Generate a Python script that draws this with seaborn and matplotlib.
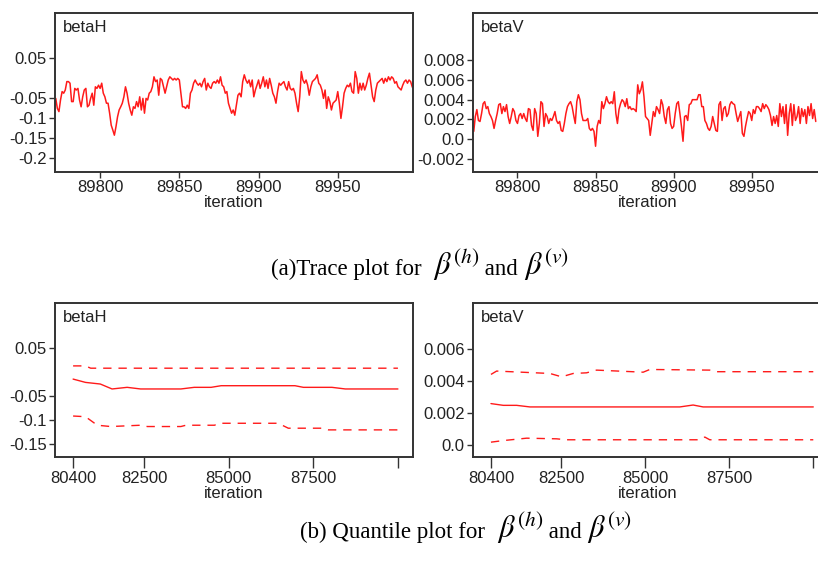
import numpy as np
import pandas as pd
import matplotlib
matplotlib.use('Agg')
import matplotlib.pyplot as plt
from matplotlib.offsetbox import TextArea, HPacker, AnnotationBbox
import seaborn as sns

# trace values (one per iteration)
beta_h_trace = [
    -0.051, -0.076, -0.084, -0.055, -0.034, -0.038, -0.030, -0.009, -0.009, -0.013,
    -0.059, -0.059, -0.026, -0.030, -0.026, -0.055, -0.072, -0.047, -0.030, -0.026,
    -0.072, -0.068, -0.051, -0.038, -0.068, -0.022, -0.026, -0.018, -0.026, -0.013,
    -0.038, -0.047, -0.063, -0.063, -0.088, -0.118, -0.130, -0.143, -0.122, -0.097,
    -0.080, -0.072, -0.063, -0.047, -0.022, -0.038, -0.063, -0.080, -0.093, -0.072,
    -0.076, -0.059, -0.072, -0.047, -0.080, -0.051, -0.088, -0.051, -0.055, -0.038,
    -0.034, -0.022, 0.003, -0.009, -0.005, -0.043, -0.001, -0.005, -0.022, -0.038,
    -0.022, -0.005, 0.003,
    -0.001, -0.005, -0.001, -0.005, -0.001, -0.005, -0.038, -0.072, -0.072, -0.076,
    -0.068, -0.076, -0.038, -0.030, -0.013, -0.005, -0.013, -0.018, -0.013, -0.022,
    -0.009, -0.001, -0.030, -0.013, -0.022, -0.026, -0.013, -0.009, -0.013, -0.005,
    -0.013, 0.003, -0.018, -0.022, -0.038, -0.034, -0.063, -0.076, -0.088, -0.080,
    -0.093, -0.068, -0.043, -0.038, -0.047, -0.009, 0.008, -0.005, -0.013, -0.005,
    -0.022, -0.005, -0.047, -0.030, -0.018, -0.005, -0.026, -0.013, 0.003, -0.022,
    -0.005, -0.026, -0.001, -0.018, -0.038, -0.047, -0.063, -0.034, -0.013, -0.018,
    -0.013, -0.009, -0.022, -0.030,
    -0.009, -0.026, -0.030, -0.026, -0.038, -0.063, -0.084, -0.047, 0.016, -0.005,
    -0.013, -0.005, -0.018, -0.043, -0.022, -0.009, -0.005, -0.001, 0.008, -0.013,
    -0.018, -0.030, -0.051, -0.030, -0.076, -0.047, -0.059, -0.080, -0.063, -0.059,
    -0.055, -0.034, -0.063, -0.101, -0.072, -0.038, -0.026, -0.018, -0.022, -0.013,
    -0.034, -0.038, 0.016, -0.001, -0.038, -0.013, -0.030, -0.013, -0.030, -0.018,
    -0.001, 0.012, -0.018, -0.047, -0.059, -0.030, -0.013, -0.009, -0.005, -0.001,
    -0.013, -0.001, -0.009, 0.003, -0.005, 0.003, -0.001, -0.013, -0.009, -0.022,
    -0.026, -0.030, -0.018, -0.009, -0.005, -0.013, -0.005, -0.009, -0.022, -0.030,
]

beta_v_trace = [
    0.0008, 0.0023, 0.0030, 0.0019, 0.0018, 0.0026, 0.0036, 0.0038, 0.0031, 0.0033,
    0.0026, 0.0023, 0.0019, 0.0011, 0.0019, 0.0026, 0.0035, 0.0036, 0.0026, 0.0033,
    0.0028, 0.0035, 0.0023, 0.0016, 0.0023, 0.0031, 0.0028, 0.0019, 0.0016, 0.0024,
    0.0026, 0.0021, 0.0026, 0.0021, 0.0018, 0.0031, 0.0030, 0.0014, 0.0009, 0.0031,
    0.0026, 0.0003, 0.0016, 0.0038, 0.0036, 0.0013, 0.0026, 0.0023, 0.0016, 0.0021,
    0.0019, 0.0023, 0.0028, 0.0019, 0.0016, 0.0018, 0.0009, 0.0008, 0.0016, 0.0026,
    0.0033, 0.0036, 0.0038, 0.0033, 0.0024, 0.0016, 0.0038, 0.0045, 0.0040, 0.0026,
    0.0019, 0.0019,
    0.0019, 0.0021, 0.0011, 0.0009, 0.0011, 0.0008, -0.0007, 0.0013, 0.0019, 0.0016,
    0.0038, 0.0031, 0.0036, 0.0043, 0.0038, 0.0036, 0.0038, 0.0036, 0.0048, 0.0026,
    0.0016, 0.0030, 0.0036, 0.0040, 0.0038, 0.0033, 0.0041, 0.0031, 0.0033, 0.0030,
    0.0031, 0.0030, 0.0028, 0.0055, 0.0046, 0.0050, 0.0058, 0.0043, 0.0023, 0.0021,
    0.0019, 0.0004, 0.0016, 0.0028, 0.0023, 0.0033, 0.0030, 0.0026, 0.0040, 0.0035,
    0.0023, 0.0016, 0.0030, 0.0033, 0.0016, 0.0011, 0.0013, 0.0026, 0.0036, 0.0038,
    0.0026, 0.0013, -0.0002, 0.0023, 0.0024, 0.0019, 0.0035, 0.0036, 0.0040, 0.0040,
    0.0040, 0.0040, 0.0045, 0.0045, 0.0033, 0.0033, 0.0019, 0.0016, 0.0011, 0.0009,
    0.0013, 0.0023, 0.0016, 0.0009, 0.0008, 0.0035, 0.0038, 0.0019, 0.0031, 0.0033,
    0.0023, 0.0026, 0.0035, 0.0038, 0.0036, 0.0035, 0.0026, 0.0018, 0.0023, 0.0028,
    0.0006, 0.0003, 0.0013, 0.0021, 0.0028, 0.0026, 0.0019, 0.0030, 0.0026, 0.0033,
    0.0033, 0.0031, 0.0028, 0.0036, 0.0031, 0.0035, 0.0033, 0.0030, 0.0024, 0.0014,
    0.0023, 0.0016, 0.0024, 0.0013, 0.0036, 0.0023, 0.0033, 0.0016, 0.0035, 0.0004,
    0.0026, 0.0036, 0.0014, 0.0035, 0.0019, 0.0023, 0.0033, 0.0016, 0.0031, 0.0023,
    0.0030, 0.0016, 0.0033, 0.0024, 0.0036, 0.0021, 0.0030, 0.0018,
]
trace_start = 89772

# quantile plots: 2.5%, median, 97.5%
qh_med_x = [80400, 80766, 81204, 81551, 81997, 82394, 83585, 83980, 84478, 84775, 86957, 87206, 88050, 88447, 90000]
qh_med = [-0.0146, -0.0215, -0.0249, -0.0352, -0.0318, -0.0352, -0.0352, -0.0318, -0.0318, -0.0284, -0.0284, -0.0318, -0.0318, -0.0352, -0.0352]
qh_up_x = [80400, 80766, 80920, 90000]
qh_up = [0.0129, 0.0129, 0.0081, 0.0081]
qh_lo_x = [80400, 80766, 81115, 81512, 82394, 82593, 83585, 83734, 84577, 84726, 86462, 86760, 87752, 87950, 90000]
qh_lo = [-0.0916, -0.093, -0.1108, -0.1135, -0.1108, -0.1135, -0.1135, -0.1108, -0.1108, -0.1067, -0.1067, -0.117, -0.117, -0.1205, -0.1205]

qv_med_x = [80400, 80767, 81164, 81561, 86025, 86421, 86719, 90000]
qv_med = [0.00259, 0.00248, 0.00248, 0.00238, 0.00238, 0.0025, 0.00238, 0.00238]
qv_up_x = [80400, 80569, 82156, 82503, 82850, 83247, 83545, 84934, 85132, 86917, 87116, 90000]
qv_up = [0.00442, 0.00463, 0.00448, 0.00427, 0.00448, 0.00452, 0.00469, 0.00456, 0.00473, 0.00469, 0.00459, 0.00459]
qv_lo_x = [80400, 80767, 81462, 82354, 82652, 86620, 86769, 86917, 90000]
qv_lo = [0.00017, 0.00027, 0.00042, 0.00038, 0.00032, 0.00032, 0.00049, 0.00032, 0.00032]

trace_ticks = [89800, 89850, 89900, 89950]
quant_ticks = [80400, 82500, 85000, 87500, 90000]
quant_labels = ['80400', '82500', '85000', '87500', '']

sns.set_style('white')
plt.rcParams['font.family'] = ['Liberation Sans', 'DejaVu Sans']
plt.rcParams['mathtext.fontset'] = 'stix'

fig = plt.figure(figsize=(8.18, 5.63), dpi=100)
ax_th = fig.add_axes([0.0672, 0.6945, 0.4377, 0.2824])
ax_tv = fig.add_axes([0.5782, 0.6945, 0.4267, 0.2824])
ax_qh = fig.add_axes([0.0672, 0.1883, 0.4377, 0.2735])
ax_qv = fig.add_axes([0.5782, 0.1883, 0.4267, 0.2735])

RED = '#ff1a1a'
FRAME = '#333333'


def style_axes(ax, name):
    for s in ax.spines.values():
        s.set_visible(True)
        s.set_color(FRAME)
        s.set_linewidth(1.4)
    ax.tick_params(direction='out', length=4, width=1, color=FRAME,
                   labelsize=12, labelcolor='#222222', pad=2, left=True, bottom=True)
    ax.text(0.022, 0.955, name, transform=ax.transAxes, va='top', ha='left',
            fontsize=12, color='#222222')
    ax.set_xlabel('iteration', fontsize=12, color='#222222', labelpad=0)
    ax.set_ylabel('')


def caption(parts, xy):
    cap_font = ['Liberation Serif', 'DejaVu Serif']
    boxes = [TextArea(txt, textprops=dict(fontsize=size, family=cap_font, color='black'))
             for txt, size in parts]
    pack = HPacker(children=boxes, align='baseline', pad=0, sep=0)
    ab = AnnotationBbox(pack, xy, xycoords='figure fraction', frameon=False,
                        box_alignment=(0.5, 0.5))
    fig.add_artist(ab)


df_h = pd.DataFrame({'iteration': trace_start + np.arange(len(beta_h_trace)), 'value': beta_h_trace})
df_v = pd.DataFrame({'iteration': trace_start + np.arange(len(beta_v_trace)), 'value': beta_v_trace})

sns.lineplot(data=df_h, x='iteration', y='value', ax=ax_th, color=RED, linewidth=1.1)
ax_th.set_xlim(89771.5, 89997.5)
ax_th.set_ylim(-0.235, 0.1625)
ax_th.set_xticks(trace_ticks)
ax_th.set_xticklabels([str(t) for t in trace_ticks])
ax_th.set_yticks([0.05, -0.05, -0.1, -0.15, -0.2])
ax_th.set_yticklabels(['0.05', '-0.05', '-0.1', '-0.15', '-0.2'])
style_axes(ax_th, 'betaH')

sns.lineplot(data=df_v, x='iteration', y='value', ax=ax_tv, color=RED, linewidth=1.1)
ax_tv.set_xlim(89771.5, 89995)
ax_tv.set_ylim(-0.0033, 0.01275)
ax_tv.set_xticks(trace_ticks)
ax_tv.set_xticklabels([str(t) for t in trace_ticks])
ax_tv.set_yticks([0.008, 0.006, 0.004, 0.002, 0.0, -0.002])
ax_tv.set_yticklabels(['0.008', '0.006', '0.004', '0.002', '0.0', '-0.002'])
style_axes(ax_tv, 'betaV')

dash = (0, (6, 5))
sns.lineplot(x=qh_med_x, y=qh_med, ax=ax_qh, color=RED, linewidth=1.0)
sns.lineplot(x=qh_up_x, y=qh_up, ax=ax_qh, color=RED, linewidth=1.0, linestyle=dash)
sns.lineplot(x=qh_lo_x, y=qh_lo, ax=ax_qh, color=RED, linewidth=1.0, linestyle=dash)
ax_qh.set_xlim(79864, 90446)
ax_qh.set_ylim(-0.177, 0.144)
ax_qh.set_xticks(quant_ticks)
ax_qh.set_xticklabels(quant_labels)
ax_qh.set_yticks([0.05, -0.05, -0.1, -0.15])
ax_qh.set_yticklabels(['0.05', '-0.05', '-0.1', '-0.15'])
style_axes(ax_qh, 'betaH')
ax_qh.tick_params(axis='x', length=8)

sns.lineplot(x=qv_med_x, y=qv_med, ax=ax_qv, color=RED, linewidth=1.0)
sns.lineplot(x=qv_up_x, y=qv_up, ax=ax_qv, color=RED, linewidth=1.0, linestyle=dash)
sns.lineplot(x=qv_lo_x, y=qv_lo, ax=ax_qv, color=RED, linewidth=1.0, linestyle=dash)
ax_qv.set_xlim(79864, 90260)
ax_qv.set_ylim(-0.00076, 0.0089)
ax_qv.set_xticks(quant_ticks)
ax_qv.set_xticklabels(quant_labels)
ax_qv.set_yticks([0.006, 0.004, 0.002, 0.0])
ax_qv.set_yticklabels(['0.006', '0.004', '0.002', '0.0'])
style_axes(ax_qv, 'betaV')
ax_qv.tick_params(axis='x', length=8)

caption([('(a)Trace plot for  ', 16.5), (r'$\beta^{(h)}$', 22), (' and ', 16.5), (r'$\beta^{(v)}$', 22)],
        (0.513, 0.530))
caption([('(b) Quantile plot for  ', 16.5), (r'$\beta^{(h)}$', 22), (' and ', 16.5), (r'$\beta^{(v)}$', 22)],
        (0.570, 0.062))

fig.savefig('out.png', dpi=100)
